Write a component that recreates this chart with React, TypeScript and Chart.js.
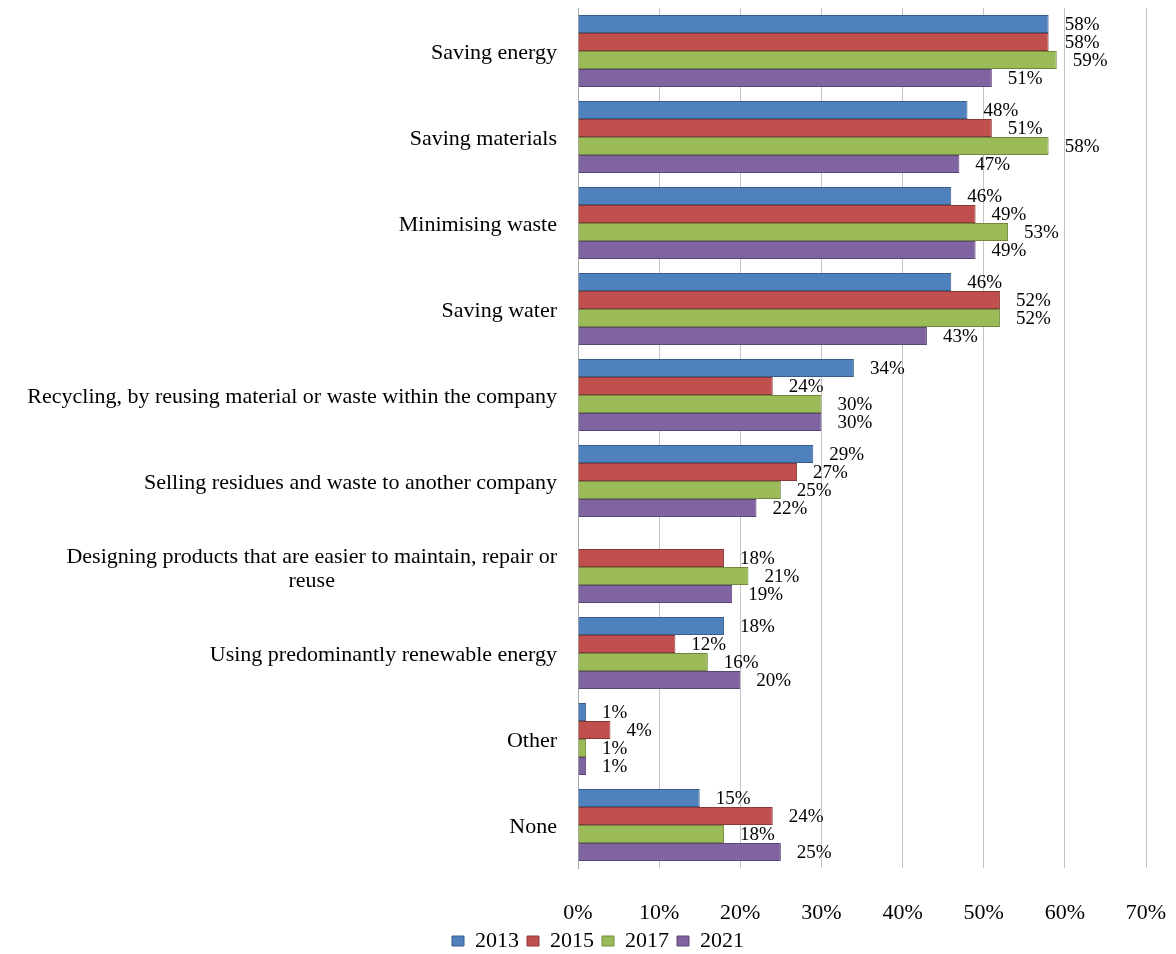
import React, { useEffect, useRef } from "react";
import { Chart, registerables } from "chart.js";

Chart.register(...registerables);

// Environmental practices, share of companies (%) by survey year
const categories: string[][] = [
  ["Saving energy"],
  ["Saving materials"],
  ["Minimising waste"],
  ["Saving water"],
  ["Recycling, by reusing material or waste within the company"],
  ["Selling residues and waste to another company"],
  ["Designing products that are easier to maintain, repair or", "reuse"],
  ["Using predominantly renewable energy"],
  ["Other"],
  ["None"],
];

const values2013: (number | null)[] = [58, 48, 46, 46, 34, 29, null, 18, 1, 15];
const values2015: (number | null)[] = [58, 51, 49, 52, 24, 27, 18, 12, 4, 24];
const values2017: (number | null)[] = [59, 58, 53, 52, 30, 25, 21, 16, 1, 18];
const values2021: (number | null)[] = [51, 47, 49, 43, 30, 22, 19, 20, 1, 25];

const xTicks: number[] = [0, 10, 20, 30, 40, 50, 60, 70];

const SERIF = '"Liberation Serif", "Times New Roman", serif';

const series = [
  { label: "2013", data: values2013, fill: "#4F81BD", edge: "#385D8A" },
  { label: "2015", data: values2015, fill: "#C0504D", edge: "#8C3836" },
  { label: "2017", data: values2017, fill: "#9BBB59", edge: "#71893F" },
  { label: "2021", data: values2021, fill: "#8064A2", edge: "#5C4776" },
];

const PAD_LEFT = 50;
const PLOT_LEFT = 578;

// Value labels to the right of each bar
const valueLabels = {
  id: "valueLabels",
  afterDatasetsDraw(chart: Chart) {
    const ctx = chart.ctx;
    ctx.save();
    ctx.font = `19px ${SERIF}`;
    ctx.fillStyle = "#000";
    ctx.textAlign = "left";
    ctx.textBaseline = "middle";
    chart.data.datasets.forEach((ds, i) => {
      const meta = chart.getDatasetMeta(i);
      meta.data.forEach((el: any, j: number) => {
        const v = ds.data[j] as number | null;
        if (v === null || v === undefined) return;
        ctx.fillText(`${v}%`, el.x + 16, el.y + 1);
      });
    });
    ctx.restore();
  },
};

// Category names: right-aligned blocks, wrapped lines centred within the block
const categoryLabels = {
  id: "categoryLabels",
  afterDraw(chart: Chart) {
    const ctx = chart.ctx;
    const yScale: any = chart.scales.y;
    const right = chart.chartArea.left - 21;
    const lineH = 24;
    ctx.save();
    ctx.font = `22px ${SERIF}`;
    ctx.fillStyle = "#000";
    ctx.textBaseline = "middle";
    categories.forEach((lines, i) => {
      const cy = yScale.getPixelForValue(i) + 2;
      const widths = lines.map((l) => ctx.measureText(l).width);
      const blockW = Math.max(...widths);
      const startY = cy - ((lines.length - 1) * lineH) / 2;
      lines.forEach((line, k) => {
        if (lines.length === 1) {
          ctx.textAlign = "right";
          ctx.fillText(line, right, startY);
        } else {
          ctx.textAlign = "center";
          ctx.fillText(line, right - blockW / 2, startY + k * lineH);
        }
      });
    });
    ctx.restore();
  },
};

export default function App() {
  const canvasRef = useRef<HTMLCanvasElement | null>(null);

  useEffect(() => {
    if (!canvasRef.current) return;
    const chart = new Chart(canvasRef.current, {
      type: "bar",
      data: {
        labels: categories.map((c) => c.join(" ")),
        datasets: series.map((s) => ({
          label: s.label,
          data: s.data,
          backgroundColor: s.fill,
          borderColor: s.edge,
          borderWidth: 1,
          barPercentage: 1,
          categoryPercentage: 0.84,
        })),
      },
      options: {
        indexAxis: "y",
        responsive: false,
        animation: false,
        layout: { padding: { top: 8, right: 30, bottom: 0, left: PAD_LEFT } },
        plugins: {
          tooltip: { enabled: false },
          legend: {
            position: "bottom",
            align: "center",
            maxHeight: 32,
            labels: {
              boxWidth: 12,
              boxHeight: 10,
              padding: 8,
              color: "#000",
              font: { family: SERIF, size: 22 },
            },
          },
        },
        scales: {
          x: {
            min: 0,
            max: 70,
            afterBuildTicks(scale: any) {
              scale.ticks = xTicks.map((v) => ({ value: v }));
            },
            afterFit(scale: any) {
              scale.height = 54;
              scale.paddingLeft = 0;
              scale.paddingRight = 0;
            },
            grid: { color: "#c4c4c4", lineWidth: 1, drawTicks: false },
            border: { display: false },
            ticks: {
              padding: 34,
              color: "#000",
              font: { family: SERIF, size: 22, lineHeight: 1 },
              callback: (v: any) => `${v}%`,
            },
          },
          y: {
            grid: { display: false },
            border: { display: true, color: "#a6a6a6", width: 1 },
            ticks: { display: false },
            afterFit(scale: any) {
              scale.width = PLOT_LEFT - PAD_LEFT;
            },
          },
        },
      },
      plugins: [valueLabels, categoryLabels],
    });
    return () => chart.destroy();
  }, []);

  return (
    <div style={{ position: "absolute", left: 0, top: 0, width: 1176, height: 954, background: "#fff" }}>
      <canvas ref={canvasRef} width={1176} height={954} style={{ display: "block" }} />
    </div>
  );
}
